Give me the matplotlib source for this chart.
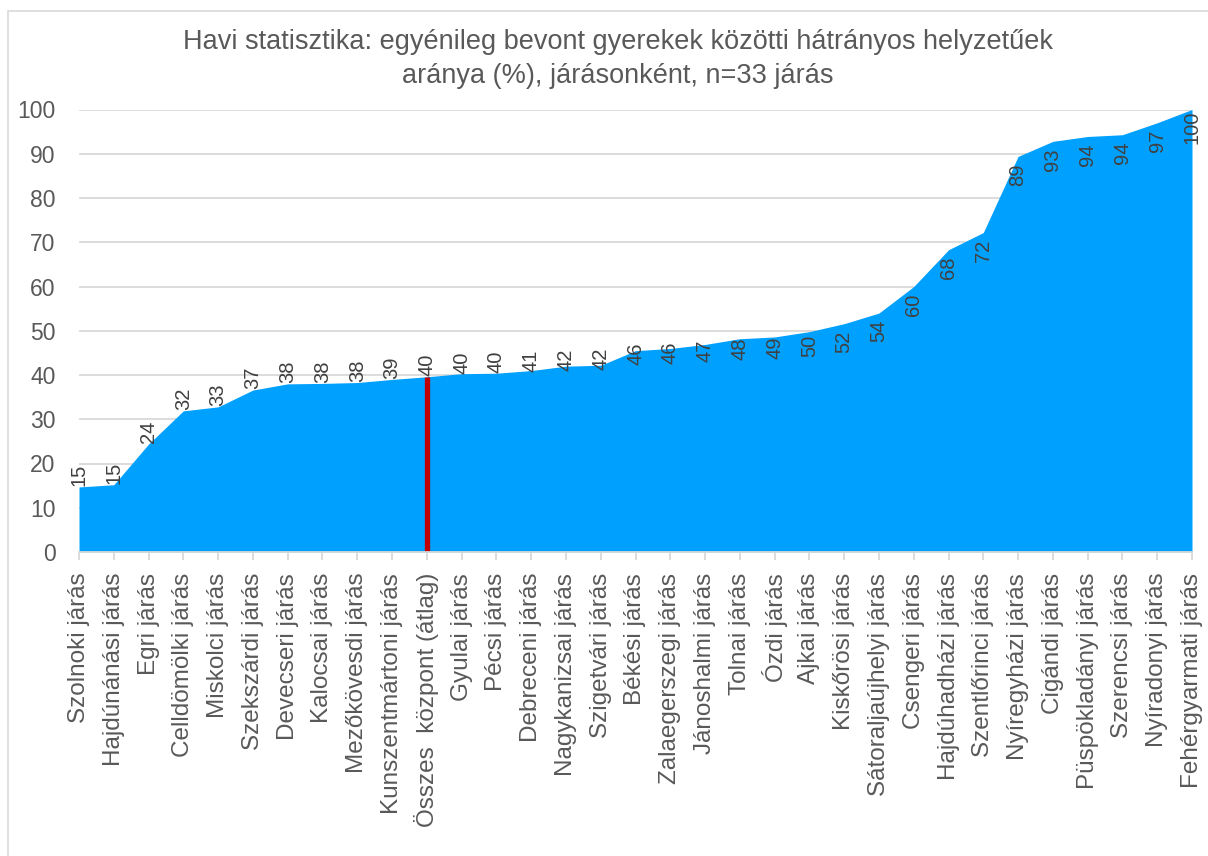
import numpy as np
import matplotlib
matplotlib.use("Agg")
import matplotlib.pyplot as plt
from matplotlib.patches import Rectangle

plt.rcParams['font.family'] = ['Liberation Sans', 'DejaVu Sans']

categories = [
    "Szolnoki járás", "Hajdúnánási járás", "Egri járás", "Celldömölki járás",
    "Miskolci járás", "Szekszárdi járás", "Devecseri járás", "Kalocsai járás",
    "Mezőkövesdi járás", "Kunszentmártoni járás", "Összes  központ (átlag)",
    "Gyulai járás", "Pécsi járás", "Debreceni járás", "Nagykanizsai járás",
    "Szigetvári járás", "Békési járás", "Zalaegerszegi járás", "Jánoshalmi járás",
    "Tolnai járás", "Ózdi járás", "Ajkai járás", "Kiskőrösi járás",
    "Sátoraljaújhelyi járás", "Csengeri járás", "Hajdúhadházi járás",
    "Szentlőrinci járás", "Nyíregyházi járás", "Cigándi járás",
    "Püspökladányi járás", "Szerencsi járás", "Nyíradonyi járás",
    "Fehérgyarmati járás",
]
values = [
    14.7, 15.2, 24.4, 31.9, 32.8, 36.6, 38.0, 38.1, 38.3, 39.0, 39.6,
    40.3, 40.4, 41.0, 42.0, 42.2, 45.5, 46.0, 46.9, 48.2, 48.6, 49.8,
    51.6, 54.0, 60.0, 68.3, 72.2, 89.4, 92.8, 93.9, 94.3, 97.0, 100.0,
]
average_label = "Összes  központ (átlag)"
yticks = [0, 10, 20, 30, 40, 50, 60, 70, 80, 90, 100]
title = ("Havi statisztika: egyénileg bevont gyerekek közötti hátrányos helyzetűek\n"
         "aránya (%), járásonként, n=33 járás")

W, H = 1208, 856
fig = plt.figure(figsize=(W / 100, H / 100), dpi=100)
fig.patch.set_facecolor("white")

# chart frame
fig.patches.append(Rectangle((8 / W, -0.1), 1.2, 1.1 - 11 / H,
                             transform=fig.transFigure, fill=False,
                             edgecolor="#d9d9d9", linewidth=1.2))

left, right, top, bottom = 79, 1192, 109.5, 552
ax = fig.add_axes([left / W, 1 - bottom / H, (right - left) / W, (bottom - top) / H])

x = np.arange(len(categories))
vals = np.array(values)

ax.fill_between(x, 0, vals, color="#00A0FF", linewidth=0, zorder=2)

# average marker
avg_idx = categories.index(average_label)
ax.vlines(x[avg_idx], 0, vals[avg_idx], color="#C00000", linewidth=3.8, zorder=3)

ax.set_xlim(0, len(categories) - 1)
ax.set_ylim(0, 100)
ax.set_yticks(yticks)
ax.yaxis.grid(True, color="#d9d9d9", linewidth=1.3, zorder=0)
ax.set_axisbelow(True)

for s in ["top", "right", "left"]:
    ax.spines[s].set_visible(False)
ax.spines["bottom"].set_color("#d9d9d9")
ax.spines["bottom"].set_linewidth(1.3)
ax.spines["bottom"].set_zorder(4)

ax.set_xticks(x)
ax.set_xticklabels(categories, rotation=90, fontsize=17.5, color="#595959")
ax.tick_params(axis="x", length=6, width=1.3, color="#d9d9d9", pad=9)
ax.tick_params(axis="y", length=0, pad=17, labelsize=16.5, labelcolor="#595959")

# value labels, rotated like the category labels
for xi, v in zip(x, vals):
    off = float(np.clip(12 - (v - 40) * 2.7, -18, 12))
    ax.annotate(f"{v:.0f}", (xi, v), xytext=(0, off), textcoords="offset pixels",
                rotation=90, ha="center", va="center", fontsize=14.5,
                color="#404040", zorder=5)

fig.text(618 / W, 1 - 59 / H, title, ha="center", va="center",
         fontsize=19.5, color="#595959", linespacing=1.4)

fig.savefig("out.png", dpi=100)
